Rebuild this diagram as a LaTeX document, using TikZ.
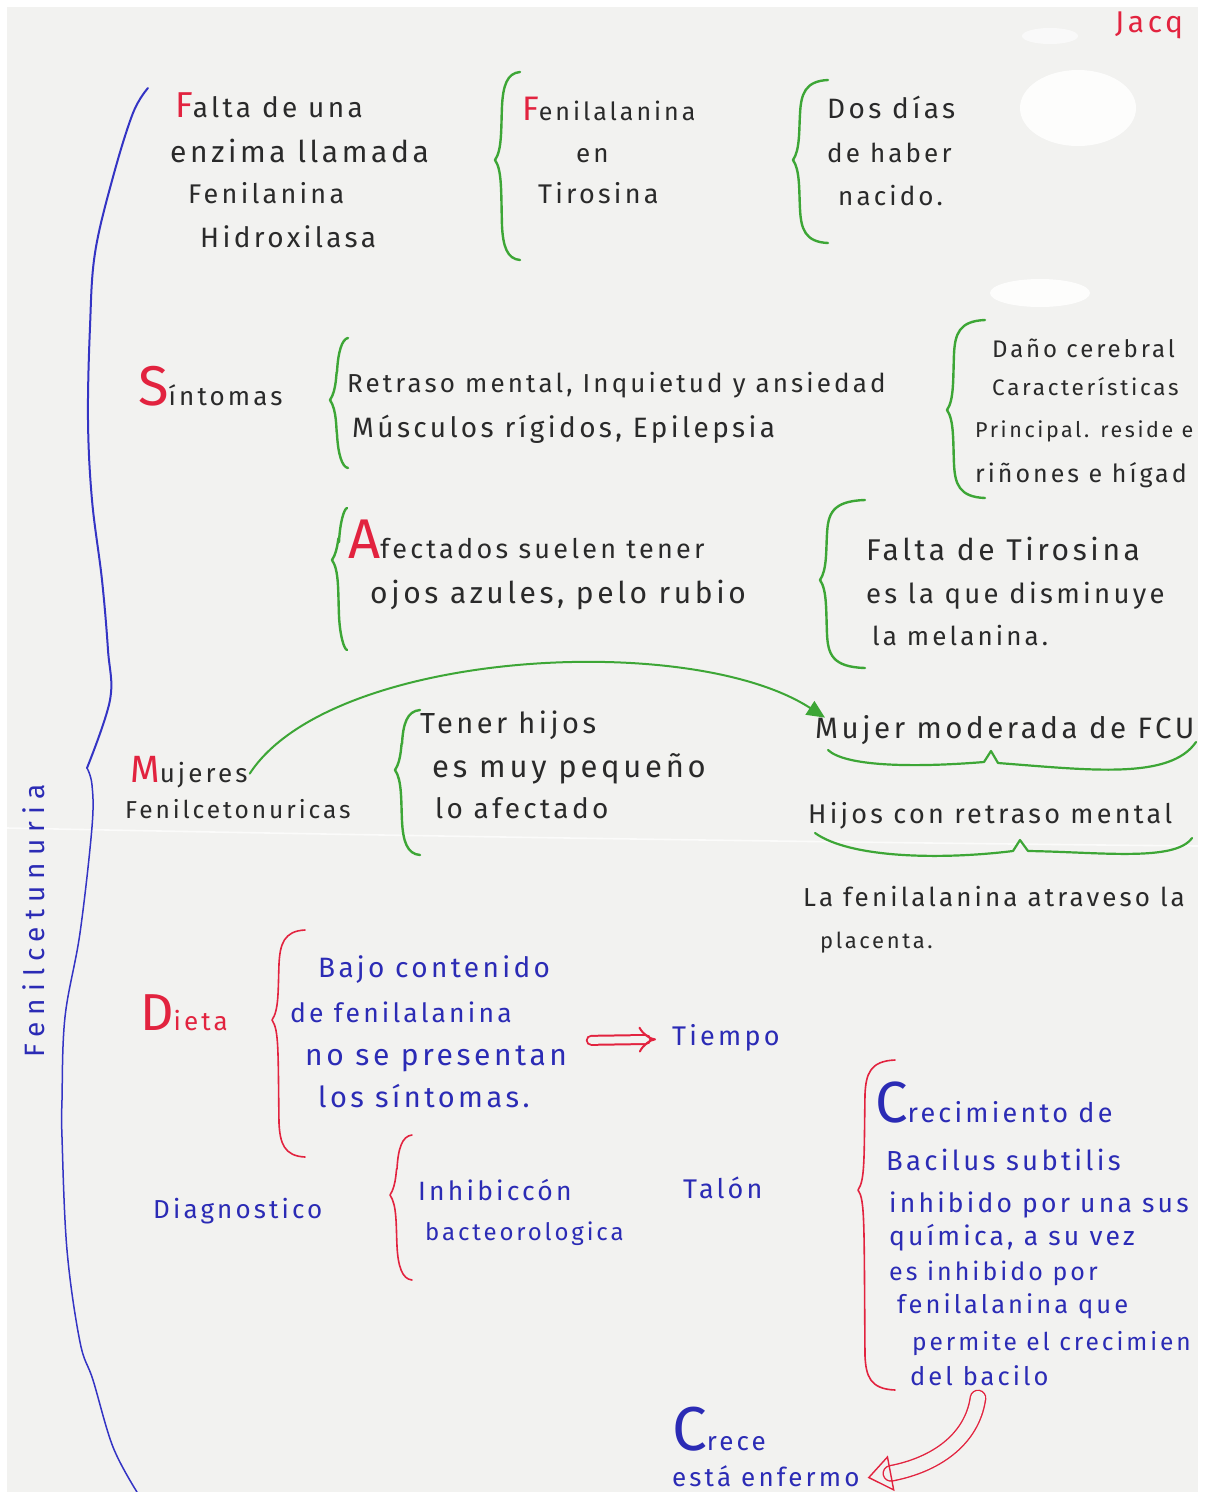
\documentclass[tikz,border=0pt]{standalone}
\usepackage{fontspec}
\setmainfont{Fira Sans}[LetterSpace=12]
\newfontfamily\widefont{Fira Sans}[LetterSpace=25]
\usetikzlibrary{arrows.meta}

\definecolor{paper}{HTML}{F2F2F0}
\definecolor{ink}{HTML}{2A2A2A}
\definecolor{redink}{HTML}{E2233F}
\definecolor{greenink}{HTML}{3DA636}
\definecolor{blueink}{HTML}{2B2BB5}
\definecolor{blueline}{HTML}{3434C4}

\newcommand{\rd}[1]{\textcolor{redink}{#1}}
\newcommand{\bigletter}[2]{{\fontsize{#1}{#1}\selectfont #2}}

% left curly brace: style, cusp x, top y, cusp y, bottom y, end x
\newcommand{\curlyb}[6]{%
  \draw[#1] (#6,#3) .. controls (#2+12,#3+1) and (#2+8,#3+14) .. (#2+7,#3+34)
    .. controls (#2+6,#4-30) and (#2+7,#4-10) .. (#2,#4)
    .. controls (#2+7,#4+10) and (#2+6,#4+30) .. (#2+7,#5-34)
    .. controls (#2+8,#5-14) and (#2+12,#5-1) .. (#6,#5);}

\tikzset{
  txt/.style={anchor=base west, inner sep=0pt, text=ink,
    font=\fontsize{26}{30}\selectfont},
  btxt/.style={txt, text=blueink},
  fs/.style={font=\fontsize{#1}{#1}\selectfont},
  gpen/.style={draw=greenink, line width=2.4pt, line cap=round, line join=round},
  rpen/.style={draw=redink, line width=1.6pt, line cap=round, line join=round},
  bpen/.style={draw=blueline, line width=1.8pt, line cap=round, line join=round},
}

\begin{document}
\begin{tikzpicture}[x=1pt,y=-1pt]
\useasboundingbox (0,0) rectangle (1208,1492);
\fill[white] (0,0) rectangle (1208,1492);
\fill[paper] (7,7) rectangle (1198,1492);
% lighter patches on the sheet
\fill[white, opacity=0.85] (1078,108) ellipse [x radius=58, y radius=38];
\fill[white, opacity=0.85] (1040,293) ellipse [x radius=50, y radius=14];
\fill[white, opacity=0.6] (1050,36) ellipse [x radius=28, y radius=8];
% fold of the sheet
\draw[white, line width=1.6pt, opacity=0.7] (7,828) .. controls (400,836) and (800,842) .. (1198,846);

% main brace
\draw[bpen, line width=2pt] plot[smooth, tension=0.6] coordinates {(148,88) (133,113) (113,177) (95,253) (90,327) (88,420) (92,500) (102,580) (108,650) (110,700) (87,768)};
\draw[bpen, line width=1.5pt] plot[smooth, tension=0.6] coordinates {(87,768) (92,785) (92,827) (80,933) (65,1017) (62,1100) (62,1137) (67,1250) (80,1342) (93,1380) (113,1447) (137,1492)};
\node[btxt, anchor=base, rotate=90, font=\widefont\fontsize{28}{30}\selectfont] (fen) at (44,921) {Fenilcetunuria};

\node[txt, text=redink, fs=30] (jac) at (1115,32) {Jacq};

% first row
\node[txt, fs=28] (fa1) at (175,117) {\rd{\bigletter{36}{F}}alta de una};
\node[txt, fs=30] (fa2) at (170,162) {enzima llamada};
\node[txt, fs=27] (fa3) at (188,203) {Fenilanina};
\node[txt, fs=28] (fa4) at (200,247) {Hidroxilasa};

\curlyb{gpen}{495}{72}{160}{260}{520}
\node[txt, fs=25] (fe1) at (522,120) {\rd{\bigletter{34}{F}}enilalanina};
\node[txt] (fe2) at (576,162) {en};
\node[txt, fs=27] (fe3) at (538,203) {Tirosina};

\curlyb{gpen}{793}{80}{160}{243}{828}
\node[txt, fs=28] (dd1) at (827,118) {Dos días};
\node[txt] (dd2) at (827,162) {de haber};
\node[txt] (dd3) at (838,205) {nacido.};

% symptoms
\node[txt] (sin) at (138,405) {\rd{\bigletter{56}{S}}íntomas};
\curlyb{gpen}{330}{338}{400}{468}{348}
\node[txt] (rm1) at (347,392) {Retraso mental, Inquietud y ansiedad};
\node[txt, fs=28] (rm2) at (352,437) {Músculos rígidos, Epilepsia};

\curlyb{gpen}{947}{320}{410}{498}{985}
\node[txt, fs=24] (dc1) at (992,357) {Daño cerebral};
\node[txt, fs=22.5] (dc2) at (992,395) {Características};
\node[txt, fs=21.5] (dc3) at (975,437) {Principal. reside e};
\node[txt, fs=25] (dc4) at (975,482) {riñones e hígad};

\curlyb{gpen}{332}{508}{560}{650}{347}
\node[txt, fs=27] (af1) at (348,558) {\rd{\bigletter{56}{A}}fectados suelen tener};
\node[txt, fs=30] (af2) at (370,603) {ojos azules, pelo rubio};

\curlyb{gpen}{820}{500}{580}{668}{865}
\node[txt, fs=30] (ft1) at (866,560) {Falta de Tirosina};
\node[txt, fs=27.5] (ft2) at (866,603) {es la que disminuye};
\node[txt] (ft3) at (872,645) {la melanina.};

% women with PKU
\node[txt] (mu1) at (130,782) {\rd{\bigletter{38}{M}}ujeres};
\node[txt, fs=24.5] (mu2) at (125,818) {Fenilcetonuricas};

\curlyb{gpen}{395}{710}{770}{855}{420}
\node[txt, fs=29] (th1) at (420,733) {Tener hijos};
\node[txt, fs=31] (th2) at (432,777) {es muy pequeño};
\node[txt, fs=28] (th3) at (435,818) {lo afectado};

\node[txt, fs=29.5] (mm) at (815,738) {Mujer moderada de FCU};
\node[txt, fs=27] (hr) at (808,823) {Hijos con retraso mental};
\draw[gpen, line width=2.2pt] (828,750) .. controls (845,766) and (910,768) .. (984,762)
  -- (991,751) -- (998,763) .. controls (1090,770) and (1170,780) .. (1196,742);
\draw[gpen, line width=2.2pt] (815,833) .. controls (850,858) and (940,860) .. (1013,851)
  -- (1020,840) -- (1028,851) .. controls (1100,852) and (1175,862) .. (1192,838);

\draw[gpen, line width=2pt, -{Triangle[length=18pt,width=16pt]}]
  ([xshift=2pt,yshift=-2pt]mu1.east) .. controls (330,650) and (690,630) .. ([xshift=10pt,yshift=12pt]mm.west);

\node[txt] (pl1) at (803,906) {La fenilalanina atraveso la};
\node[txt, fs=22] (pl2) at (820,948) {placenta.};

% diet
\node[txt, text=redink] (die) at (140,1030) {\bigletter{52}{D}ieta};
\curlyb{rpen}{272}{930}{1020}{1157}{305}
\node[btxt, fs=28] (bj1) at (318,977) {Bajo contenido};
\node[btxt, fs=26.5] (bj2) at (290,1022) {de fenilalanina};
\node[btxt, fs=30] (bj3) at (305,1065) {no se presentan};
\node[btxt, fs=29] (bj4) at (318,1107) {los síntomas.};
\node[btxt, fs=27] (tie) at (672,1045) {Tiempo};
\draw[rpen, line width=2pt, double=paper, double distance=7pt, -{Implies[scale=2.2]}]
  ([xshift=24pt,yshift=18pt]bj3.east) -- ([xshift=-16pt,yshift=-2pt]tie.west);

% diagnosis
\node[btxt] (dia) at (153,1218) {Diagnostico};
\curlyb{rpen}{390}{1135}{1195}{1280}{412}
\node[btxt, fs=26.5] (in1) at (418,1200) {Inhibiccón};
\node[btxt, fs=24] (in2) at (425,1240) {bacteorologica};
\node[btxt, fs=27] (tal) at (683,1198) {Talón};

\curlyb{rpen}{858}{1060}{1190}{1390}{895}
\node[btxt, fs=27] (cr1) at (875,1122) {\bigletter{58}{C}recimiento de};
\node[btxt, fs=27.5] (cr2) at (886,1170) {Bacilus subtilis};
\node[btxt, fs=26.5] (cr3) at (889,1212) {inhibido por una sus};
\node[btxt, fs=26.5] (cr4) at (889,1245) {química, a su vez};
\node[btxt, fs=25] (cr5) at (889,1280) {es inhibido por};
\node[btxt, fs=25.5] (cr6) at (897,1313) {fenilalanina que};
\node[btxt, fs=24.5] (cr7) at (912,1350) {permite el crecimien};
\node[btxt, fs=25.5] (cr8) at (910,1385) {del bacilo};

\node[btxt] (crc) at (672,1450) {\bigletter{62}{C}rece};
\node[btxt] (enf) at (672,1486) {está enfermo};
\coordinate (asrc) at (978,1398);
\draw[rpen, line width=1.4pt, double=paper, double distance=14pt, -{Triangle[open,length=24pt,width=36pt]}]
  (asrc) .. controls (972,1440) and (935,1465) .. ([xshift=8pt,yshift=-2pt]enf.east);
\end{tikzpicture}
\end{document}
